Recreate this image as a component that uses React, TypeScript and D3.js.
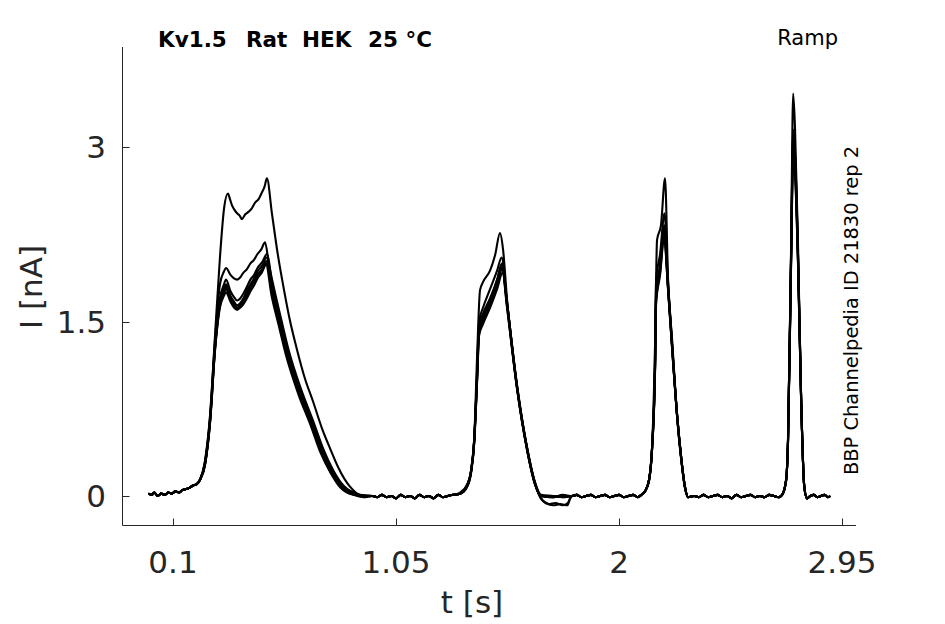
import React from 'react';
import * as d3 from 'd3';

type Pt = [number, number];

// axes
const xTicks = [0.1, 1.05, 2, 2.95];
const xTickLabels = ['0.1', '1.05', '2', '2.95'];
const yTicks = [0, 1.5, 3];
const yTickLabels = ['0', '1.5', '3'];

// shared baseline stretches, [t s, I nA]
const basePre: Pt[] = [[-0.005, 0.02], [0.01, 0.01], [0.02, 0.03], [0.035, 0.0], [0.05, 0.02], [0.065, 0.01], [0.08, 0.03], [0.095, 0.02], [0.11, 0.04], [0.125, 0.03], [0.14, 0.05], [0.155, 0.06], [0.17, 0.07], [0.185, 0.09], [0.2, 0.1], [0.215, 0.14]];
const gap1: Pt[] = [[0.95, 0.0], [0.97, -0.01], [0.99, 0.01], [1.01, -0.01], [1.03, 0.0], [1.05, -0.02], [1.07, 0.01], [1.09, -0.01], [1.11, 0.0], [1.13, -0.02], [1.15, 0.01], [1.17, -0.01], [1.19, 0.0], [1.21, -0.02], [1.23, 0.01], [1.25, -0.01], [1.27, 0.0], [1.293, 0.01]];
const gap2: Pt[] = [[1.8, 0.0], [1.82, 0.01], [1.84, -0.01], [1.86, 0.0], [1.88, 0.01], [1.9, -0.01], [1.92, 0.0], [1.94, 0.01], [1.96, -0.01], [1.98, 0.0], [2.0, 0.01], [2.02, -0.01], [2.04, 0.0], [2.06, 0.01], [2.08, -0.01], [2.095, 0.01]];
const gap3: Pt[] = [[2.32, 0.0], [2.34, -0.01], [2.36, 0.01], [2.38, -0.01], [2.4, 0.0], [2.42, 0.01], [2.44, -0.01], [2.46, 0.0], [2.48, -0.02], [2.5, 0.01], [2.52, -0.01], [2.54, 0.0], [2.56, 0.01], [2.58, -0.01], [2.6, 0.0], [2.62, -0.01], [2.64, 0.01], [2.66, 0.0], [2.68, -0.01], [2.695, 0.01]];
const tail: Pt[] = [[2.815, 0.0], [2.83, 0.01], [2.845, -0.01], [2.86, 0.0], [2.875, 0.01], [2.89, -0.01], [2.9, 0.0]];

// sweep A (largest)
const ramp1A: Pt[] = [[0.236, 0.3], [0.258, 0.7], [0.279, 1.38], [0.3, 2.05], [0.318, 2.48], [0.334, 2.6], [0.343, 2.55], [0.351, 2.5], [0.362, 2.46], [0.373, 2.43], [0.384, 2.41], [0.394, 2.38], [0.407, 2.42], [0.42, 2.44], [0.435, 2.47], [0.449, 2.52], [0.464, 2.55], [0.479, 2.61], [0.49, 2.66], [0.5, 2.73], [0.522, 2.42], [0.547, 2.07], [0.573, 1.77], [0.598, 1.51], [0.628, 1.26], [0.662, 1.01], [0.697, 0.81], [0.735, 0.58], [0.769, 0.41], [0.803, 0.25], [0.854, 0.08], [0.897, 0.01]];
const ramp2A: Pt[] = [[1.323, 0.03], [1.353, 0.1], [1.37, 0.22], [1.383, 0.48], [1.395, 1.17], [1.408, 1.77], [1.421, 1.84], [1.451, 1.94], [1.472, 2.07], [1.493, 2.26], [1.506, 2.12], [1.523, 1.69], [1.566, 0.95], [1.608, 0.42], [1.642, 0.12], [1.668, 0.01], [1.72, 0.0], [1.76, -0.01]];
const ramp3A: Pt[] = [[2.111, 0.04], [2.128, 0.14], [2.141, 0.42], [2.154, 1.34], [2.162, 2.2], [2.179, 2.33], [2.196, 2.73], [2.209, 1.86], [2.226, 1.35], [2.247, 0.71], [2.264, 0.35], [2.281, 0.08], [2.294, -0.01]];
const ramp4A: Pt[] = [[2.712, 0.14], [2.72, 0.48], [2.733, 2.12], [2.742, 3.46], [2.75, 3.15], [2.763, 2.12], [2.776, 0.83], [2.789, 0.09], [2.801, -0.02]];

// sweep B
const ramp1B: Pt[] = [[0.236, 0.29], [0.258, 0.68], [0.279, 1.34], [0.3, 1.82], [0.317, 1.93], [0.326, 1.96], [0.345, 1.9], [0.36, 1.87], [0.373, 1.86], [0.387, 1.88], [0.4, 1.92], [0.415, 1.95], [0.43, 2.0], [0.445, 2.03], [0.46, 2.08], [0.476, 2.12], [0.492, 2.18], [0.508, 2.0], [0.532, 1.77], [0.562, 1.51], [0.592, 1.26], [0.647, 0.91], [0.698, 0.64], [0.741, 0.4], [0.783, 0.22], [0.826, 0.09], [0.88, 0.02], [0.92, 0.0]];
const ramp2B: Pt[] = [[1.323, 0.02], [1.353, 0.09], [1.37, 0.21], [1.383, 0.46], [1.395, 1.05], [1.404, 1.5], [1.421, 1.62], [1.451, 1.78], [1.481, 1.94], [1.5, 2.05], [1.52, 1.72], [1.563, 0.97], [1.606, 0.43], [1.64, 0.12], [1.666, 0.0], [1.72, -0.01], [1.76, 0.0]];
const ramp3B: Pt[] = [[2.111, 0.04], [2.128, 0.14], [2.141, 0.42], [2.154, 1.25], [2.158, 1.85], [2.175, 2.08], [2.194, 2.43], [2.209, 1.84], [2.226, 1.32], [2.247, 0.71], [2.264, 0.35], [2.281, 0.08], [2.294, -0.01]];
const ramp4B: Pt[] = [[2.712, 0.14], [2.72, 0.48], [2.733, 2.08], [2.742, 3.15], [2.75, 2.95], [2.763, 2.05], [2.776, 0.83], [2.789, 0.09], [2.801, -0.02]];

// sweep C
const ramp1C: Pt[] = [[0.236, 0.28], [0.258, 0.66], [0.279, 1.3], [0.3, 1.7], [0.317, 1.82], [0.326, 1.86], [0.345, 1.76], [0.36, 1.71], [0.373, 1.68], [0.387, 1.7], [0.4, 1.74], [0.415, 1.8], [0.43, 1.86], [0.445, 1.9], [0.46, 1.96], [0.48, 2.01], [0.5, 2.08], [0.526, 1.77], [0.556, 1.51], [0.586, 1.26], [0.641, 0.91], [0.692, 0.64], [0.735, 0.4], [0.777, 0.22], [0.82, 0.09], [0.875, 0.02], [0.918, -0.01]];
const ramp2C: Pt[] = [[1.323, 0.02], [1.353, 0.09], [1.37, 0.22], [1.383, 0.48], [1.395, 1.0], [1.404, 1.43], [1.421, 1.53], [1.451, 1.68], [1.481, 1.86], [1.502, 2.0], [1.523, 1.66], [1.566, 0.93], [1.608, 0.41], [1.642, 0.11], [1.668, 0.0], [1.72, -0.01], [1.76, 0.0]];
const ramp3C: Pt[] = [[2.111, 0.04], [2.128, 0.14], [2.141, 0.42], [2.154, 1.17], [2.158, 1.75], [2.175, 1.99], [2.192, 2.33], [2.209, 1.81], [2.226, 1.3], [2.247, 0.71], [2.264, 0.35], [2.281, 0.08], [2.294, -0.01]];
const ramp4C: Pt[] = [[2.712, 0.14], [2.72, 0.48], [2.733, 2.05], [2.742, 3.05], [2.75, 2.89], [2.763, 2.03], [2.776, 0.83], [2.789, 0.09], [2.801, -0.02]];

// sweep D
const ramp1D: Pt[] = [[0.236, 0.27], [0.258, 0.65], [0.279, 1.28], [0.3, 1.67], [0.317, 1.78], [0.326, 1.82], [0.345, 1.72], [0.36, 1.67], [0.373, 1.64], [0.387, 1.66], [0.4, 1.7], [0.415, 1.77], [0.43, 1.82], [0.445, 1.87], [0.46, 1.93], [0.48, 1.98], [0.498, 2.05], [0.524, 1.76], [0.554, 1.5], [0.584, 1.25], [0.639, 0.9], [0.69, 0.63], [0.733, 0.39], [0.775, 0.21], [0.818, 0.08], [0.872, 0.02], [0.915, 0.0]];
const ramp2D: Pt[] = [[1.323, 0.02], [1.353, 0.08], [1.37, 0.21], [1.383, 0.46], [1.395, 0.98], [1.404, 1.4], [1.421, 1.5], [1.451, 1.64], [1.481, 1.82], [1.503, 1.97], [1.524, 1.64], [1.567, 0.92], [1.609, 0.4], [1.643, 0.1], [1.668, -0.02], [1.69, -0.06], [1.72, -0.08], [1.75, -0.07], [1.78, -0.08], [1.792, -0.02]];
const ramp3D: Pt[] = [[2.111, 0.04], [2.128, 0.14], [2.141, 0.41], [2.154, 1.15], [2.158, 1.7], [2.175, 1.95], [2.192, 2.28], [2.209, 1.79], [2.226, 1.29], [2.247, 0.7], [2.264, 0.34], [2.281, 0.08], [2.294, -0.01]];
const ramp4D: Pt[] = [[2.712, 0.14], [2.72, 0.47], [2.733, 2.02], [2.742, 3.0], [2.75, 2.84], [2.763, 2.0], [2.776, 0.82], [2.789, 0.09], [2.801, -0.02]];

// sweep E
const ramp1E: Pt[] = [[0.236, 0.27], [0.258, 0.64], [0.279, 1.26], [0.3, 1.64], [0.317, 1.74], [0.326, 1.78], [0.345, 1.69], [0.36, 1.65], [0.373, 1.62], [0.387, 1.64], [0.4, 1.67], [0.415, 1.73], [0.43, 1.79], [0.445, 1.84], [0.46, 1.9], [0.48, 1.95], [0.498, 2.02], [0.522, 1.74], [0.552, 1.48], [0.582, 1.23], [0.637, 0.88], [0.688, 0.62], [0.731, 0.38], [0.773, 0.2], [0.816, 0.08], [0.87, 0.01], [0.913, -0.01]];
const ramp2E: Pt[] = [[1.323, 0.02], [1.353, 0.09], [1.37, 0.21], [1.383, 0.47], [1.395, 0.99], [1.404, 1.45], [1.421, 1.55], [1.451, 1.66], [1.481, 1.82], [1.502, 1.95], [1.523, 1.62], [1.566, 0.92], [1.608, 0.4], [1.642, 0.1], [1.668, 0.0], [1.72, 0.0], [1.76, -0.01]];
const ramp3E: Pt[] = [[2.111, 0.04], [2.128, 0.13], [2.141, 0.41], [2.154, 1.14], [2.158, 1.68], [2.175, 1.92], [2.192, 2.25], [2.209, 1.78], [2.226, 1.28], [2.247, 0.7], [2.264, 0.34], [2.281, 0.07], [2.294, -0.01]];
const ramp4E: Pt[] = [[2.712, 0.13], [2.72, 0.47], [2.733, 2.0], [2.742, 2.95], [2.75, 2.8], [2.763, 1.98], [2.776, 0.82], [2.789, 0.09], [2.801, -0.02]];

// sweep F
const ramp1F: Pt[] = [[0.236, 0.26], [0.258, 0.63], [0.279, 1.25], [0.3, 1.62], [0.317, 1.72], [0.326, 1.75], [0.345, 1.67], [0.36, 1.62], [0.373, 1.6], [0.387, 1.62], [0.4, 1.65], [0.415, 1.7], [0.43, 1.76], [0.445, 1.81], [0.46, 1.87], [0.478, 1.92], [0.496, 1.99], [0.52, 1.72], [0.55, 1.47], [0.58, 1.22], [0.635, 0.87], [0.686, 0.61], [0.729, 0.37], [0.771, 0.2], [0.814, 0.07], [0.868, 0.01], [0.912, 0.0]];
const ramp2F: Pt[] = [[1.323, 0.02], [1.353, 0.08], [1.37, 0.2], [1.383, 0.45], [1.395, 0.96], [1.404, 1.38], [1.421, 1.48], [1.451, 1.62], [1.481, 1.78], [1.504, 1.92], [1.525, 1.62], [1.568, 0.91], [1.61, 0.4], [1.644, 0.1], [1.67, -0.03], [1.7, -0.07], [1.73, -0.06], [1.76, -0.08], [1.782, -0.06], [1.795, -0.01]];
const ramp3F: Pt[] = [[2.111, 0.04], [2.128, 0.13], [2.141, 0.4], [2.154, 1.12], [2.158, 1.65], [2.175, 1.9], [2.192, 2.22], [2.209, 1.77], [2.226, 1.27], [2.247, 0.69], [2.264, 0.33], [2.281, 0.07], [2.294, -0.01]];
const ramp4F: Pt[] = [[2.712, 0.13], [2.72, 0.46], [2.733, 1.98], [2.742, 2.9], [2.75, 2.76], [2.763, 1.96], [2.776, 0.81], [2.789, 0.08], [2.801, -0.02]];

// sweep G
const ramp1G: Pt[] = [[0.236, 0.27], [0.258, 0.65], [0.279, 1.27], [0.3, 1.66], [0.317, 1.76], [0.326, 1.8], [0.345, 1.7], [0.36, 1.64], [0.373, 1.61], [0.387, 1.64], [0.4, 1.68], [0.415, 1.74], [0.43, 1.8], [0.445, 1.85], [0.46, 1.9], [0.48, 1.94], [0.5, 2.0], [0.525, 1.75], [0.555, 1.5], [0.585, 1.25], [0.64, 0.9], [0.691, 0.63], [0.734, 0.39], [0.776, 0.21], [0.819, 0.08], [0.874, 0.02], [0.916, 0.0]];
const ramp2G: Pt[] = [[1.323, 0.02], [1.353, 0.09], [1.37, 0.22], [1.383, 0.48], [1.395, 1.02], [1.404, 1.47], [1.421, 1.57], [1.451, 1.7], [1.481, 1.86], [1.501, 1.99], [1.522, 1.65], [1.565, 0.93], [1.607, 0.41], [1.641, 0.11], [1.667, 0.0], [1.72, -0.01], [1.76, 0.01]];
const ramp3G: Pt[] = [[2.111, 0.04], [2.128, 0.14], [2.141, 0.42], [2.154, 1.16], [2.158, 1.72], [2.175, 1.97], [2.192, 2.3], [2.209, 1.8], [2.226, 1.3], [2.247, 0.71], [2.264, 0.35], [2.281, 0.08], [2.294, -0.01]];
const ramp4G: Pt[] = [[2.712, 0.14], [2.72, 0.48], [2.733, 2.06], [2.742, 3.1], [2.75, 2.92], [2.763, 2.04], [2.776, 0.83], [2.789, 0.09], [2.801, -0.02]];

const sweep = (r1: Pt[], r2: Pt[], r3: Pt[], r4: Pt[]): Pt[] =>
  [...basePre, ...r1, ...gap1, ...r2, ...gap2, ...r3, ...gap3, ...r4, ...tail];

const sweeps: Pt[][] = [
  sweep(ramp1C, ramp2C, ramp3C, ramp4C),
  sweep(ramp1D, ramp2D, ramp3D, ramp4D),
  sweep(ramp1E, ramp2E, ramp3E, ramp4E),
  sweep(ramp1F, ramp2F, ramp3F, ramp4F),
  sweep(ramp1G, ramp2G, ramp3G, ramp4G),
  sweep(ramp1B, ramp2B, ramp3B, ramp4B),
  sweep(ramp1A, ramp2A, ramp3A, ramp4A),
];

const W = 945;
const H = 624;
const axisColor = '#262626';
const font = '"DejaVu Sans", sans-serif';

// title words and their left edges (px)
const titleWords = ['Kv1.5', 'Rat', 'HEK', '25 °C'];
const titleX = [158, 246, 302, 368];

const App: React.FC = () => {
  const x = d3.scaleLinear().domain([0.1, 2.95]).range([173, 842]);
  const y = d3.scaleLinear().domain([0, 3]).range([496, 147]);

  const line = d3.line<Pt>()
    .x(d => x(d[0]))
    .y(d => y(d[1]))
    .curve(d3.curveMonotoneX);

  const left = 122.5;
  const bottom = 525.5;
  const top = 47;
  const right = 856;

  return (
    <svg width={W} height={H} style={{ position: 'absolute', left: 0, top: 0, background: '#fff' }}>
      {/* traces */}
      <g fill="none" stroke="#000" strokeWidth={2.1} strokeLinejoin="round">
        {sweeps.map((s, i) => <path key={i} d={line(s) || ''} />)}
      </g>

      {/* axes */}
      <g stroke={axisColor} strokeWidth={1} fill="none">
        <line x1={left} y1={top} x2={left} y2={bottom} />
        <line x1={left} y1={bottom} x2={right} y2={bottom} />
        {yTicks.map(t => (
          <line key={'yt' + t} x1={left} x2={left + 7} y1={Math.round(y(t)) + 0.5} y2={Math.round(y(t)) + 0.5} />
        ))}
        {xTicks.map(t => (
          <line key={'xt' + t} x1={Math.round(x(t)) + 0.5} x2={Math.round(x(t)) + 0.5} y1={bottom} y2={bottom - 7} />
        ))}
      </g>

      <g fill={axisColor} fontFamily={font} fontSize={31}>
        {yTicks.map((t, i) => (
          <text key={'yl' + t} x={106} y={y(t) + 11} textAnchor="end">{yTickLabels[i]}</text>
        ))}
        {xTicks.map((t, i) => (
          <text key={'xl' + t} x={x(t)} y={573} textAnchor="middle">{xTickLabels[i]}</text>
        ))}
        <text x={472} y={613} textAnchor="middle">t [s]</text>
        <text transform="translate(42,287) rotate(-90)" textAnchor="middle">I [nA]</text>
      </g>

      <g fontFamily={font} fontSize={21.5} fontWeight="bold" fill="#000">
        {titleWords.map((w, i) => (
          <text key={w} x={titleX[i]} y={47}>{w}</text>
        ))}
      </g>
      <text x={838} y={45} textAnchor="end" fontFamily={font} fontSize={21} fill="#000">Ramp</text>
      <text transform="translate(858,475) rotate(-90)" fontFamily={font} fontSize={19.4} fill="#000">
        BBP Channelpedia ID 21830 rep 2
      </text>
    </svg>
  );
};

export default App;
